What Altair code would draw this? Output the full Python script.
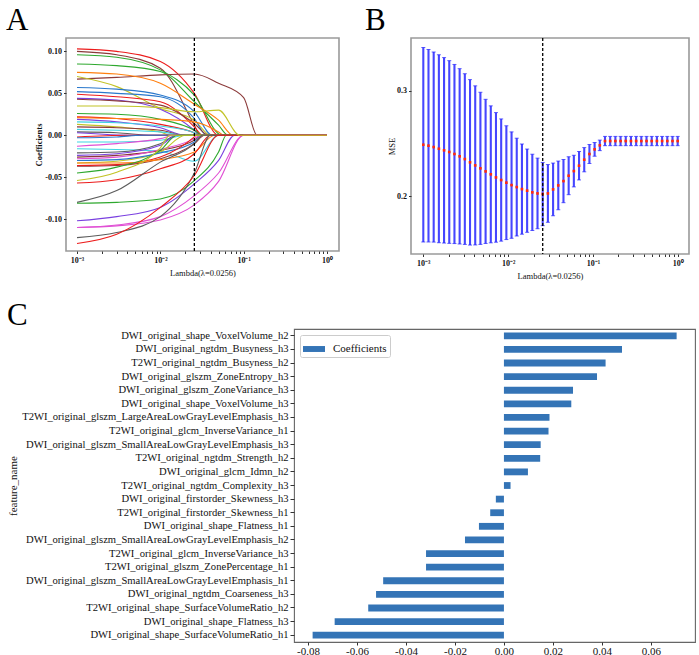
import altair as alt
import pandas as pd

SERIF = "Liberation Serif"
N = None

# ---------------- Panel A: LASSO coefficient paths ----------------
A_KNOTS = [0.001, 0.003, 0.01, 0.0256, 0.05, 0.1]
A_COLOR = ["red", "brown", "green", "green", "brown", "orange", "olive", "blue", "blue", "red",
           "purple", "brown", "olive", "green", "red", "orange", "purple", "cyan", "olive", "brown",
           "cyan", "gray", "purple",
           "red", "blue", "cyan", "pink", "cyan", "gray", "purple", "brown", "pink", "olive",
           "blue", "brown", "red", "orange", "green", "olive", "red", "gray", "green", "purple",
           "pink", "pink", "gray", "red"]
A_AT_0001 = [.103, .100, .096, .085, .067, .075, .070, .057, .052, .049, .044, .043, .035, .026,
             .022, .021, .019, .016, .013, .010, .007, .004, .003,
             -.002, -.003, -.008, -.013, -.016, -.021, -.024, -.026, -.028, -.033, -.030, -.037,
             -.036, -.033, -.045, -.054, -.057, -.080, -.081, -.102, -.110, -.110, -.122, -.129]
A_AT_0003 = [.100, .096, .093, .083, .069, .073, .058, .055, .050, .046, .042, .041, .035, .025,
             .020, .020, .016, .015, .010, .009, .006, .003, N,
             N, -.002, -.008, -.010, -.017, -.020, -.022, -.024, -.026, -.031, -.029, -.036,
             -.035, -.033, -.038, -.044, -.053, -.066, -.080, -.097, -.107, -.108, -.116, -.118]
A_AT_001 = [.088, .080, .078, .076, .072, .062, .032, .048, .046, .040, .031, .036, .033, .019,
            .013, .019, .009, .011, .004, .006, .004, N, N,
            N, N, -.006, -.004, -.019, -.010, -.012, -.018, -.017, -.020, -.021, -.028,
            -.026, -.029, -.018, -.015, -.040, -.032, -.076, -.086, -.097, -.101, -.097, -.086]
A_AT_00256 = [.050, .012, .048, .040, .073, .037, .018, .028, .020, .010, .006, .014, .028, .006,
              .003, .016, N, .003, N, N, N, N, N,
              N, N, N, N, -.031, N, N, -.006, -.004, N, -.008, -.010,
              -.002, -.020, N, N, -.022, -.010, -.054, -.058, -.072, -.083, -.045, -.048]
A_AT_005 = [N, N, N, .012, .062, .018, N, N, N, N, N, N, .030, N,
            N, .004, N, N, N, N, N, N, N,
            N, N, N, N, N, N, N, N, N, N, N, N,
            N, N, N, N, N, N, -.020, -.030, -.045, -.055, N, N]
A_AT_01 = [N, N, N, N, .045, N, N, N, N, N, N, N, N, N,
           N, N, N, N, N, N, N, N, N,
           N, N, N, N, N, N, N, N, N, N, N, N,
           N, N, N, N, N, N, N, N, N, N, N, N]
A_ZERO_AT = [.050, .030, .055, .065, .145, .075, .040, .042, .036, .032, .030, .038, .090, .032,
             .030, .058, .020, .030, .013, .020, .020, .008, .005,
             .004, .006, .020, .015, .050, .016, .016, .030, .030, .020, .032, .034,
             .027, .045, .016, .013, .040, .032, .062, .078, .100, .100, .040, .050]
A_DRAWN_LAST = 12          # the olive path that ends on top along zero
A_LAMBDA_BEST = 0.0256

PALETTE = {"red": "#ec1c1c", "green": "#2ea82e", "orange": "#ff7f0e", "blue": "#2a78cc",
           "brown": "#8b3a3a", "olive": "#c2c327", "cyan": "#3fd3e3", "pink": "#e04fd4",
           "gray": "#5c5c5c", "purple": "#7a40e0"}

# ---------------- Panel B: cross-validation MSE ----------------
B_LAMBDA = [0.001, 0.0011514, 0.0013257, 0.0015264, 0.0017575, 0.0020236, 0.00233, 0.0026827,
            0.0030888, 0.0035565, 0.0040949, 0.0047149, 0.0054287, 0.0062506, 0.0071969,
            0.0082864, 0.009541, 0.010985, 0.012649, 0.014563, 0.016768, 0.019307, 0.02223,
            0.025595, 0.029471, 0.033932, 0.039069, 0.044984, 0.051795, 0.059636, 0.068665,
            0.07906, 0.09103, 0.10481, 0.12068, 0.13895, 0.15999, 0.18421, 0.2121, 0.24421,
            0.28118, 0.32375, 0.37276, 0.42919, 0.49417, 0.56899, 0.65513, 0.75431, 0.86851, 1.0]
B_MSE = [.2487, .2478, .2465, .2449, .2434, .2418, .2399, .2377, .2351, .2320, .2291, .2263,
         .2234, .2206, .2177, .2152, .2127, .2104, .2085, .2066, .2051, .2035, .2025, .2019,
         .2025, .2063, .2101, .2142, .2193, .2237, .2288, .2345, .2399, .2443, .2481,
         .2522, .2522, .2522, .2522, .2522, .2522, .2522, .2522, .2522, .2522, .2522, .2522,
         .2522, .2522, .2522]
B_STD = [.0923, .0913, .0902, .0892, .0880, .0867, .0850, .0832, .0810, .0785, .0755, .0722,
         .0684, .0650, .0615, .0580, .0540, .0505, .0464, .0428, .0395, .0362, .0335, .0300,
         .0274, .0250, .0231, .0205, .0180, .0150, .0135, .0115, .0090, .0065, .0050,
         .0044, .0044, .0044, .0044, .0044, .0044, .0044, .0044, .0044, .0044, .0044, .0044,
         .0044, .0044, .0044]

# ---------------- Panel C: selected feature coefficients ----------------
C_FEATURES = [
    "DWI_original_shape_VoxelVolume_h2",
    "DWI_original_ngtdm_Busyness_h3",
    "T2WI_original_ngtdm_Busyness_h2",
    "DWI_original_glszm_ZoneEntropy_h3",
    "DWI_original_glszm_ZoneVariance_h3",
    "DWI_original_shape_VoxelVolume_h3",
    "T2WI_original_glszm_LargeAreaLowGrayLevelEmphasis_h3",
    "T2WI_original_glcm_InverseVariance_h1",
    "DWI_original_glszm_SmallAreaLowGrayLevelEmphasis_h3",
    "T2WI_original_ngtdm_Strength_h2",
    "DWI_original_glcm_Idmn_h2",
    "T2WI_original_ngtdm_Complexity_h3",
    "DWI_original_firstorder_Skewness_h3",
    "T2WI_original_firstorder_Skewness_h1",
    "DWI_original_shape_Flatness_h1",
    "DWI_original_glszm_SmallAreaLowGrayLevelEmphasis_h2",
    "T2WI_original_glcm_InverseVariance_h3",
    "T2WI_original_glszm_ZonePercentage_h1",
    "DWI_original_glszm_SmallAreaLowGrayLevelEmphasis_h1",
    "DWI_original_ngtdm_Coarseness_h3",
    "T2WI_original_shape_SurfaceVolumeRatio_h2",
    "DWI_original_shape_Flatness_h3",
    "DWI_original_shape_SurfaceVolumeRatio_h1",
]
C_COEF = [0.0705, 0.0482, 0.0415, 0.0380, 0.0282, 0.0275, 0.0186, 0.0182, 0.0150, 0.0148,
          0.0098, 0.0027, -0.0033, -0.0056, -0.0102, -0.0159, -0.0318, -0.0318, -0.0493,
          -0.0522, -0.0554, -0.0691, -0.0781]
C_X_TICKS = [-0.08, -0.06, -0.04, -0.02, 0.0, 0.02, 0.04, 0.06]

LOG_TICKS = [0.001, 0.002, 0.003, 0.004, 0.005, 0.006, 0.007, 0.008, 0.009,
             0.01, 0.02, 0.03, 0.04, 0.05, 0.06, 0.07, 0.08, 0.09,
             0.1, 0.2, 0.3, 0.4, 0.5, 0.6, 0.7, 0.8, 0.9, 1.0]
LOG_LABELS = ("datum.value == 0.001 ? '10⁻³' : datum.value == 0.01 ? '10⁻²' : "
              "datum.value == 0.1 ? '10⁻¹' : datum.value == 1 ? '10⁰' : ''")
SIGNED = "(datum.value < 0 ? '-' : '') + format(abs(datum.value), '{fmt}')"

# ---------- build tables ----------
rows = []
knot_cols = [A_AT_0001, A_AT_0003, A_AT_001, A_AT_00256, A_AT_005, A_AT_01]
order = [i for i in range(len(A_COLOR)) if i != A_DRAWN_LAST] + [A_DRAWN_LAST]
for i in order:
    lid = f"L{i:02d}"
    z = A_ZERO_AT[i]
    for k, col in zip(A_KNOTS, knot_cols):
        v = col[i]
        if v is not None and k < z:
            rows.append({"id": lid, "lam": k, "coef": v})
    rows.append({"id": lid, "lam": z, "coef": 0.0})
    rows.append({"id": lid, "lam": 1.0, "coef": 0.0})
dfA = pd.DataFrame(rows)
line_ids = [f"L{i:02d}" for i in range(len(A_COLOR))]
line_cols = [PALETTE[c] for c in A_COLOR]

dfB = pd.DataFrame({"lam": B_LAMBDA, "mse": B_MSE, "std": B_STD})
dfB["lo"] = dfB["mse"] - dfB["std"]
dfB["hi"] = dfB["mse"] + dfB["std"]

dfBest = pd.DataFrame({"lam": [A_LAMBDA_BEST]})
dfC = pd.DataFrame({"feature": C_FEATURES, "coef": C_COEF, "series": "Coefficients"})


def log_axis():
    return alt.Axis(values=LOG_TICKS, labelExpr=LOG_LABELS, title="Lambda(λ=0.0256)",
                    grid=False, domain=False, tickSize=2.5, tickColor="#333",
                    labelFont=SERIF, labelFontSize=8, labelFontWeight="bold",
                    labelColor="#111", labelOverlap=False, labelPadding=3,
                    titleFont=SERIF, titleFontSize=8.5, titleFontWeight="normal",
                    titleColor="#111", titlePadding=4)


def panel_title(txt, dx, offset):
    return alt.TitleParams(txt, anchor="start", frame="group", dx=dx, fontSize=31,
                           font=SERIF, fontWeight="normal", color="black",
                           baseline="bottom", offset=offset)


# ---------- Panel A ----------
xA = alt.X("lam:Q", scale=alt.Scale(type="log", domain=[7.38e-4, 1.393], nice=False),
           axis=log_axis())
linesA = alt.Chart(dfA).mark_line(strokeWidth=1.1, interpolate="monotone").encode(
    x=xA,
    y=alt.Y("coef:Q", scale=alt.Scale(domain=[-0.138, 0.116], nice=False, zero=False),
            axis=alt.Axis(values=[-0.10, -0.05, 0.0, 0.05, 0.10],
                          labelExpr=SIGNED.format(fmt=".2f"), title="Coefficients",
                          grid=False, domain=False, tickSize=2.5, tickColor="#333",
                          labelFont=SERIF, labelFontSize=8, labelFontWeight="bold",
                          labelColor="#111", labelPadding=2,
                          titleFont=SERIF, titleFontSize=8.5, titleFontWeight="bold",
                          titleColor="#111", titlePadding=1)),
    stroke=alt.Stroke("id:N", scale=alt.Scale(domain=line_ids, range=line_cols), legend=None),
)
ruleA = alt.Chart(dfBest).mark_rule(color="black", strokeDash=[3, 2], strokeWidth=1.3).encode(
    x=alt.X("lam:Q"))
panelA = alt.layer(linesA, ruleA).properties(
    width=273, height=213, title=panel_title("A", -60, -31),
    view=alt.ViewBackground(stroke="#9a9a9a", strokeWidth=1.6))

# ---------- Panel B ----------
xB = alt.X("lam:Q", scale=alt.Scale(type="log", domain=[7.16e-4, 1.36], nice=False),
           axis=log_axis())
yB_scale = alt.Scale(domain=[0.145, 0.350], nice=False, zero=False)
barsB = alt.Chart(dfB).mark_rule(color="#4646ff", strokeWidth=2.1).encode(
    x=xB,
    y=alt.Y("lo:Q", scale=yB_scale,
            axis=alt.Axis(values=[0.2, 0.3], format=".1f", title="MSE",
                          grid=False, domain=False, tickSize=2.5, tickColor="#333",
                          labelFont=SERIF, labelFontSize=8, labelFontWeight="bold",
                          labelColor="#111", labelPadding=2,
                          titleFont=SERIF, titleFontSize=8.5, titleFontWeight="normal",
                          titleColor="#111", titlePadding=0)),
    y2="hi:Q",
)
capHi = alt.Chart(dfB).mark_tick(color="#2020ff", orient="horizontal", size=4,
                                 thickness=1).encode(x="lam:Q", y="hi:Q")
capLo = alt.Chart(dfB).mark_tick(color="#2020ff", orient="horizontal", size=4,
                                 thickness=1).encode(x="lam:Q", y="lo:Q")
ptsB = alt.Chart(dfB).mark_square(color="#ff2a10", size=7, opacity=1).encode(
    x="lam:Q", y="mse:Q")
ruleB = alt.Chart(dfBest).mark_rule(color="black", strokeDash=[3, 2], strokeWidth=1.3).encode(
    x=alt.X("lam:Q"))
panelB = alt.layer(barsB, capHi, capLo, ptsB, ruleB).properties(
    width=278, height=216, title=panel_title("B", -46, -31),
    view=alt.ViewBackground(stroke="#9a9a9a", strokeWidth=1.6))

# ---------- Panel C ----------
panelC = alt.Chart(dfC).mark_bar().encode(
    y=alt.Y("feature:N", sort=C_FEATURES,
            scale=alt.Scale(paddingInner=0.5, paddingOuter=0.25),
            axis=alt.Axis(title="feature_name", labelLimit=400, grid=False, domain=False,
                          tickSize=4, tickColor="#333", labelFont=SERIF, labelFontSize=10.6,
                          labelColor="#111", labelPadding=2, titleFont=SERIF,
                          titleFontSize=11, titleFontWeight="normal", titleColor="#111",
                          titleX=-276)),
    x=alt.X("coef:Q", scale=alt.Scale(domain=[-0.0857, 0.078], nice=False),
            axis=alt.Axis(values=C_X_TICKS, labelExpr=SIGNED.format(fmt=".2f"), title=None,
                          grid=False, domain=False, tickSize=3, tickColor="#333",
                          labelFont=SERIF, labelFontSize=11, labelColor="#111",
                          labelPadding=0)),
    color=alt.Color("series:N", scale=alt.Scale(domain=["Coefficients"], range=["#3474b6"]),
                    title=None,
                    legend=alt.Legend(orient="none", legendX=234, legendY=6, padding=3,
                                      strokeColor="#cccccc", fillColor="white",
                                      cornerRadius=2, symbolType="M-1,-0.27H1V0.27H-1Z",
                                      symbolSize=484, symbolStrokeWidth=0,
                                      labelFont=SERIF, labelFontSize=11,
                                      labelColor="#111", labelOffset=8)),
).properties(width=401, height=313, title=panel_title("C", -287, -34),
             view=alt.ViewBackground(stroke="#666666", strokeWidth=1.1))

spacer = alt.Chart(pd.DataFrame({"s": [0]})).mark_point(opacity=0).encode(
    x=alt.X("s:Q", axis=None), y=alt.Y("s:Q", axis=None)
).properties(width=228, height=20, view=alt.ViewBackground(strokeOpacity=0))

top = alt.hconcat(panelA, panelB, spacing=24)
bottom = alt.hconcat(spacer, panelC, spacing=0, bounds="flush")

chart = alt.vconcat(top, bottom, spacing=18).resolve_scale(
    color="independent", stroke="independent"
).properties(
    padding={"left": 5, "top": 4, "right": 3, "bottom": 2}
).configure(font=SERIF)

chart.save("out.html", embed_options={"renderer": "svg", "actions": False})
